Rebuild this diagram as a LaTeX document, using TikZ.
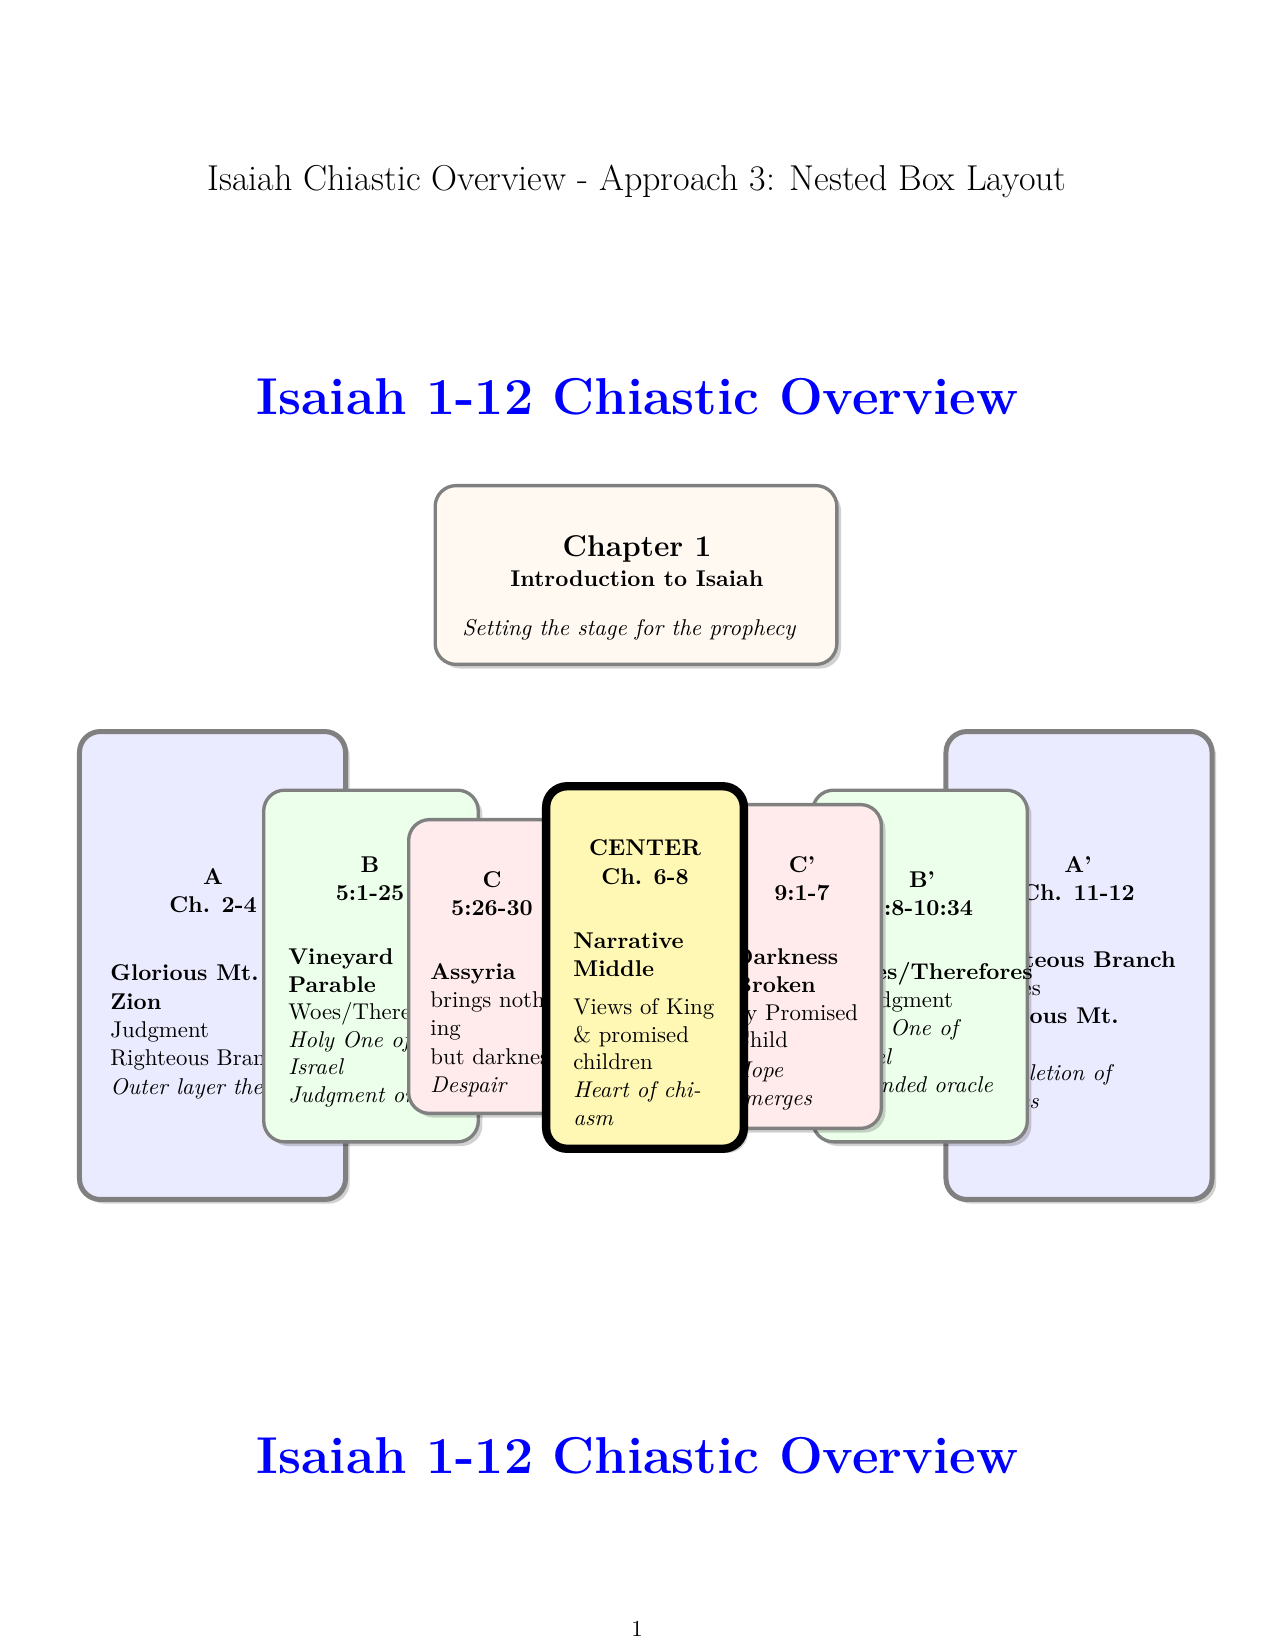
\documentclass[tikz,border=0pt]{standalone}
\usetikzlibrary{shadows}
\definecolor{centerfill}{RGB}{255,248,180}
\newcommand\bodyfont{\fontsize{10.95}{13.6}\selectfont}
\tikzset{
 card/.style={rectangle, rounded corners=10pt, inner sep=0pt, outer sep=0pt,
   drop shadow={shadow xshift=2pt, shadow yshift=-2pt, fill=black, opacity=0.18}},
 cardA/.style={card, draw=gray, line width=2.4pt, fill=blue!8, minimum width=127.7pt, minimum height=224.6pt},
 cardB/.style={card, draw=gray, line width=1.6pt, fill=green!8, minimum width=103pt, minimum height=168.8pt},
 cardC/.style={card, draw=gray, line width=1.6pt, fill=red!8, minimum width=80pt},
 cardM/.style={card, draw=black, line width=4pt, fill=centerfill, minimum width=94.9pt, minimum height=174pt},
 cardI/.style={card, draw=gray, line width=1.6pt, fill=orange!5, minimum width=192.8pt, minimum height=85.8pt},
 hd/.style={anchor=mid, inner sep=0pt, font=\bodyfont\bfseries},
 ln/.style={anchor=mid west, inner sep=0pt, font=\bodyfont},
 lb/.style={ln, font=\bodyfont\bfseries},
 li/.style={ln, font=\bodyfont\itshape},
 heading/.style={anchor=mid, inner sep=0pt, text=blue, font=\Huge\bfseries},
}
\begin{document}
\begin{tikzpicture}[x=0.48pt,y=-0.48pt]
\fill[white] (0,0) rectangle (1275,1650);
\useasboundingbox (0,0) rectangle (1275,1650);

% title and heading
\node[anchor=mid, inner sep=0pt, font=\LARGE] (title) at (637,186) {Isaiah Chiastic Overview - Approach 3: Nested Box Layout};
\node[heading] (head1) at (637.5,410) {Isaiah 1-12 Chiastic Overview};

% Chapter 1 box
\node[cardI] (intro) at (636,575) {};
\node[anchor=mid, inner sep=0pt, font=\Large\bfseries] (introT) at (637,552) {Chapter 1};
\node[hd] (introS) at (637,582) {Introduction to Isaiah};
\node[li] (introN) at (462,631) {Setting the stage for the prophecy};

% A and A'
\node[cardA] (A) at (212.5,965.5) {};
\node[hd] (Ah1) at (213,880) {A};
\node[hd] (Ah2) at (213,908) {Ch. 2-4};
\node[lb] (Al1) at (110,976) {Glorious Mt.};
\node[lb] (Al2) at (110,1005) {Zion};
\node[ln] (Al3) at (110,1033) {Judgment};
\node[ln] (Al4) at (110,1061) {Righteous Branch};
\node[li] (Al5) at (110,1090) {Outer layer themes};

\node[cardA] (Ap) at (1079,965.5) {};
\node[hd] (Aph1) at (1078,868) {A'};
\node[hd] (Aph2) at (1078,896) {Ch. 11-12};
\node[lb] (Apl1) at (970,963) {Righteous Branch};
\node[ln] (Apl2) at (970,991) {Praises};
\node[lb] (Apl3) at (970,1019) {Glorious Mt.};
\node[lb] (Apl4) at (970,1048) {Zion};
\node[li] (Apl5) at (970,1076) {Completion of};
\node[li] (Apl6) at (970,1104) {themes};

% B and B'
\node[cardB] (B) at (371,966) {};
\node[hd] (Bh1) at (370,868) {B};
\node[hd] (Bh2) at (370,896) {5:1-25};
\node[lb] (Bl1) at (288,960) {Vineyard};
\node[lb] (Bl2) at (288,988) {Parable};
\node[ln] (Bl3) at (288,1015) {Woes/Therefores};
\node[li] (Bl4) at (288,1043) {Holy One of};
\node[li] (Bl5) at (288,1070) {Israel};
\node[li] (Bl6) at (288,1098) {Judgment oracle};

\node[cardB] (Bp) at (920,966) {};
\node[hd] (Bph1) at (922,883) {B'};
\node[hd] (Bph2) at (922,911) {5:8-10:34};
\node[lb] (Bpl1) at (836,975) {Woes/Therefores};
\node[ln] (Bpl2) at (854,1003) {Judgment};
\node[li] (Bpl3) at (836,1031) {Holy One of};
\node[li] (Bpl4) at (836,1060) {Israel};
\node[li] (Bpl5) at (836,1088) {Extended oracle};

% C and C'
\node[cardC, minimum height=141pt] (C) at (492,966.5) {};
\node[hd] (Ch1) at (492,883) {C};
\node[hd] (Ch2) at (492,911) {5:26-30};
\node[lb] (Cl1) at (430,975) {Assyria};
\node[ln] (Cl2) at (430,1003) {brings noth-};
\node[ln] (Cl3) at (430,1031) {ing};
\node[ln] (Cl4) at (430,1060) {but darkness};
\node[li] (Cl5) at (430,1088) {Despair};

\node[cardC, minimum height=155.4pt] (Cp) at (798,966.5) {};
\node[hd] (Cph1) at (802,868) {C'};
\node[hd] (Cph2) at (802,896) {9:1-7};
\node[lb] (Cpl1) at (733,960) {Darkness};
\node[lb] (Cpl2) at (733,988) {Broken};
\node[ln] (Cpl3) at (733,1016) {by Promised};
\node[ln] (Cpl4) at (733,1043) {Child};
\node[li] (Cpl5) at (733,1073) {Hope};
\node[li] (Cpl6) at (733,1101) {emerges};

% Center
\node[cardM] (M) at (645,967.5) {};
\node[hd] (Mh1) at (645,851) {CENTER};
\node[hd] (Mh2) at (645,880) {Ch. 6-8};
\node[lb] (Ml1) at (573,944) {Narrative};
\node[lb] (Ml2) at (573,972) {Middle};
\node[ln] (Ml3) at (573,1010) {Views of King};
\node[ln] (Ml4) at (573,1038) {\& promised};
\node[ln] (Ml5) at (573,1065) {children};
\node[li] (Ml6) at (573,1093) {Heart of chi-};
\node[li] (Ml7) at (573,1121) {asm};

% second heading and page number
\node[heading] (head2) at (637.5,1469) {Isaiah 1-12 Chiastic Overview};
\node[anchor=mid, inner sep=0pt, font=\bodyfont] (pnum) at (637,1632) {1};
\end{tikzpicture}
\end{document}
